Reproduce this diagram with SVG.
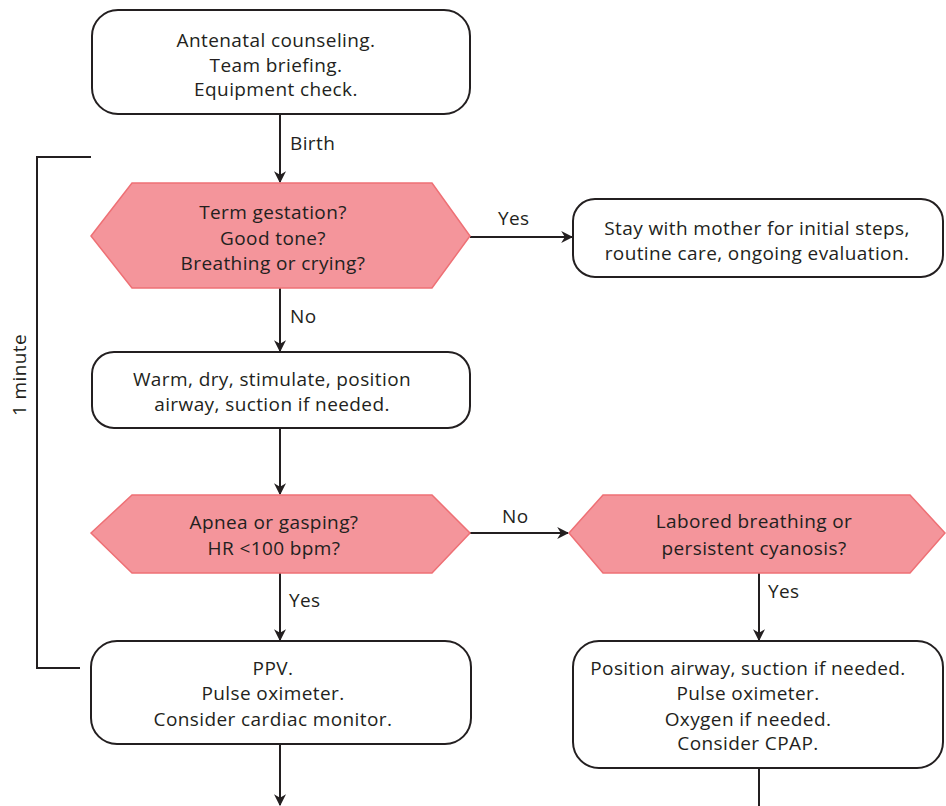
<svg xmlns="http://www.w3.org/2000/svg" width="946" height="806" viewBox="0 0 946 806">
<defs>
<style>
.box{fill:#fff;stroke:#231f20;stroke-width:2}
.hex{fill:#f4959b;stroke:#ee7075;stroke-width:1.5}
.t{font-family:"Open Sans","Noto Sans",sans-serif;font-size:19px;letter-spacing:0.4px;fill:#231f20;text-anchor:middle}
.l{font-family:"Open Sans","Noto Sans",sans-serif;font-size:19px;letter-spacing:0.4px;fill:#231f20}
.c{stroke:#231f20;stroke-width:2;fill:none}
</style>
<marker id="ah" viewBox="0 0 10 10" refX="9" refY="5" markerWidth="12" markerHeight="12" markerUnits="userSpaceOnUse" orient="auto">
<path d="M0,0 L10,5 L0,10 L3,5 Z" fill="#231f20"/>
</marker>
</defs>
<rect width="946" height="806" fill="#fff"/>
<g id="connectors">
<line class="c" x1="280" y1="115" x2="280" y2="182" marker-end="url(#ah)"/>
<text class="l" x="290" y="150">Birth</text>
<line class="c" x1="470" y1="237" x2="572" y2="237" marker-end="url(#ah)"/>
<text class="l" x="498" y="225">Yes</text>
<line class="c" x1="280" y1="288" x2="280" y2="351" marker-end="url(#ah)"/>
<text class="l" x="290" y="323">No</text>
<line class="c" x1="280" y1="428" x2="280" y2="494" marker-end="url(#ah)"/>
<line class="c" x1="470" y1="533" x2="568" y2="533" marker-end="url(#ah)"/>
<text class="l" x="502" y="523">No</text>
<line class="c" x1="280" y1="573" x2="280" y2="640" marker-end="url(#ah)"/>
<text class="l" x="289" y="607">Yes</text>
<line class="c" x1="759" y1="573" x2="759" y2="640" marker-end="url(#ah)"/>
<text class="l" x="768" y="598">Yes</text>
<line class="c" x1="280" y1="744" x2="280" y2="805" marker-end="url(#ah)"/>
<line class="c" x1="759" y1="768" x2="759" y2="806"/>
<polyline class="c" points="91,157 37,157 37,668 80,668"/>
<text class="l" transform="translate(26,375) rotate(-90)" text-anchor="middle">1 minute</text>
</g>
<g id="start">
<rect class="box" x="92" y="10" width="378" height="104" rx="26"/>
<text class="t" x="276" y="47">Antenatal counseling.</text>
<text class="t" x="276" y="71.5">Team briefing.</text>
<text class="t" x="276" y="96">Equipment check.</text>
</g>
<g id="q1">
<polygon class="hex" points="91,236 132,183 432,183 470,236 432,288 132,288"/>
<text class="t" x="273" y="219">Term gestation?</text>
<text class="t" x="273" y="245">Good tone?</text>
<text class="t" x="273" y="270">Breathing or crying?</text>
</g>
<g id="stay">
<rect class="box" x="573" y="199" width="370" height="78" rx="22"/>
<text class="t" x="757" y="235">Stay with mother for initial steps,</text>
<text class="t" x="757" y="260">routine care, ongoing evaluation.</text>
</g>
<g id="warm">
<rect class="box" x="92" y="352" width="378" height="76" rx="22"/>
<text class="t" x="272" y="386">Warm, dry, stimulate, position</text>
<text class="t" x="272" y="411">airway, suction if needed.</text>
</g>
<g id="q2">
<polygon class="hex" points="91,533 132,495 432,495 470,533 432,573 132,573"/>
<text class="t" x="274" y="529">Apnea or gasping?</text>
<text class="t" x="274" y="555">HR &lt;100 bpm?</text>
</g>
<g id="q3">
<polygon class="hex" points="569,533 603,495 910,495 945,533 910,573 603,573"/>
<text class="t" x="754" y="528">Labored breathing or</text>
<text class="t" x="754" y="555">persistent cyanosis?</text>
</g>
<g id="ppv">
<rect class="box" x="91" y="641" width="380" height="103" rx="26"/>
<text class="t" x="273" y="675">PPV.</text>
<text class="t" x="273" y="700">Pulse oximeter.</text>
<text class="t" x="273" y="726">Consider cardiac monitor.</text>
</g>
<g id="cpap">
<rect class="box" x="573" y="641" width="370" height="127" rx="26"/>
<text class="t" x="748" y="675">Position airway, suction if needed.</text>
<text class="t" x="748" y="700">Pulse oximeter.</text>
<text class="t" x="748" y="726">Oxygen if needed.</text>
<text class="t" x="748" y="750">Consider CPAP.</text>
</g>
</svg>
